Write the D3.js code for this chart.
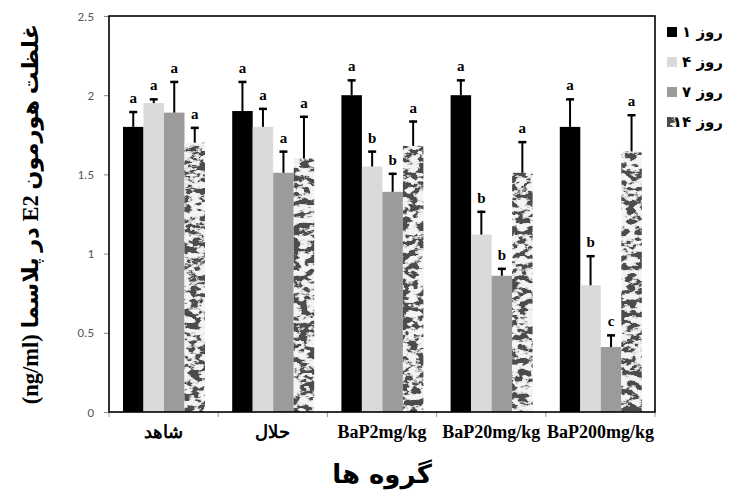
<!DOCTYPE html>
<html><head><meta charset="utf-8">
<script src="https://cdn.jsdelivr.net/npm/d3@7/dist/d3.min.js"></script>
<style>body{margin:0;background:#fff}svg{display:block}</style>
</head><body>
<svg id="c" width="732" height="499"></svg>
<script>
const groups = ["شاهد", "حلال", "BaP2mg/kg", "BaP20mg/kg", "BaP200mg/kg"];
const seriesNames = ["روز ۱", "روز ۴", "روز ۷", "روز ۱۴"];
const day1  = [1.80, 1.90, 2.00, 2.00, 1.80];
const day4  = [1.95, 1.80, 1.55, 1.12, 0.80];
const day7  = [1.89, 1.51, 1.39, 0.86, 0.41];
const day14 = [1.70, 1.60, 1.68, 1.51, 1.645];
const err1  = [0.10, 0.19, 0.10, 0.10, 0.18];
const err4  = [0.03, 0.12, 0.10, 0.15, 0.19];
const err7  = [0.20, 0.14, 0.12, 0.05, 0.08];
const err14 = [0.10, 0.27, 0.16, 0.20, 0.235];
const let1  = ["a","a","a","a","a"];
const let4  = ["a","a","b","b","b"];
const let7  = ["a","a","b","b","c"];
const let14 = ["a","a","a","a","a"];
const yTicks = [0, 0.5, 1, 1.5, 2, 2.5];

const vals = [day1, day4, day7, day14];
const errs = [err1, err4, err7, err14];
const lets = [let1, let4, let7, let14];
const colors = ["#000000", "#dadada", "#9d9a9a", "url(#marblePat)"];

const svg = d3.select("#c");
const L = 109, R = 655, T = 16, B = 412;

const defs = svg.append("defs");
const f = defs.append("filter").attr("id","marble")
  .attr("filterUnits","userSpaceOnUse").attr("color-interpolation-filters","sRGB")
  .attr("x",0).attr("y",0).attr("width",732).attr("height",499);
f.append("feTurbulence").attr("type","fractalNoise").attr("baseFrequency","0.11 0.17")
  .attr("numOctaves",3).attr("seed",11).attr("result","n");
f.append("feColorMatrix").attr("in","n").attr("type","matrix")
  .attr("values","1 0 0 0 0  1 0 0 0 0  1 0 0 0 0  0 0 0 0 1").attr("result","g");
const ct = f.append("feComponentTransfer").attr("in","g");
const tv = [];
for (let k = 0; k < 25; k++) tv.push(k < 11 ? 0.96 : k === 11 ? 0.9 : k === 12 ? 0.8 : k === 13 ? 0.55 : 0.3);
["feFuncR","feFuncG","feFuncB"].forEach(k=>ct.append(k).attr("type","discrete")
  .attr("tableValues", tv.join(" ")));
const pat = defs.append("pattern").attr("id","marblePat").attr("patternUnits","userSpaceOnUse")
  .attr("x",0).attr("y",0).attr("width",732).attr("height",499);
pat.append("rect").attr("width",732).attr("height",499).attr("fill","#fff").attr("filter","url(#marble)");

const y = d3.scaleLinear().domain([0, 2.5]).range([B, T]);
const x0 = d3.scaleBand().domain(groups).range([L, R]).padding(0);
const x1 = d3.scaleBand().domain(d3.range(4)).range([14, 96]).padding(0);

// bars
vals.forEach((arr, s) => {
  const g = svg.append("g");
  g.selectAll("rect").data(arr).join("rect")
    .attr("x", (d,i) => x0(groups[i]) + x1(s))
    .attr("y", d => y(d))
    .attr("width", x1.bandwidth())
    .attr("height", d => B - y(d))
    .attr("fill", colors[s]);
});

// error bars & letters
vals.forEach((arr, s) => {
  arr.forEach((d, i) => {
    const cx = x0(groups[i]) + x1(s) + x1.bandwidth()/2;
    const top = y(d + errs[s][i]);
    svg.append("line").attr("x1",cx).attr("x2",cx).attr("y1",y(d)).attr("y2",top)
      .attr("stroke","#000").attr("stroke-width",2);
    svg.append("line").attr("x1",cx-4).attr("x2",cx+4).attr("y1",top+1).attr("y2",top+1)
      .attr("stroke","#000").attr("stroke-width",2.5);
    svg.append("text").attr("x",cx).attr("y",top-8).attr("text-anchor","middle")
      .attr("font-family","Liberation Serif, serif").attr("font-weight","bold")
      .attr("font-size",15).text(lets[s][i]);
  });
});

// y axis
const ya = svg.append("g").attr("transform",`translate(${L},0)`)
  .call(d3.axisLeft(y).tickValues(yTicks).tickFormat(d=>String(d)).tickSize(5).tickPadding(10));
ya.select(".domain").remove();
ya.selectAll("line").attr("stroke","#888");
ya.selectAll("text").attr("font-family","Carlito, Liberation Sans, sans-serif").attr("font-size",13).attr("fill","#555");

// x axis ticks at boundaries
const bounds = groups.map(g=>x0(g)).concat([R]);
svg.append("g").selectAll("line").data(bounds).join("line")
  .attr("x1",d=>d).attr("x2",d=>d).attr("y1",B).attr("y2",B+5).attr("stroke","#999");
svg.append("g").selectAll("text").data(groups).join("text")
  .attr("x",d=>x0(d)+x0.bandwidth()/2).attr("y",438).attr("text-anchor","middle")
  .attr("font-family","Liberation Serif, serif").attr("font-weight","bold").attr("font-size",18)
  .text(d=>d);

// frame
svg.append("rect").attr("x",L).attr("y",T).attr("width",R-L).attr("height",B-T)
  .attr("fill","none").attr("stroke","#000").attr("stroke-width",1.6);

// titles
svg.append("text").attr("x",382).attr("y",483).attr("text-anchor","middle").attr("direction","rtl")
  .attr("font-family","DejaVu Sans, sans-serif").attr("font-weight","bold").attr("font-size",26)
  .text("گروه ها");
svg.append("text").attr("transform","translate(38,214) rotate(-90)").attr("text-anchor","middle")
  .attr("direction","rtl")
  .attr("font-family","Liberation Serif, DejaVu Sans, serif").attr("font-weight","bold").attr("font-size",22.5)
  .text("غلظت هورمون E2 در پلاسما (ng/ml)");

// legend
const lg = svg.append("g");
seriesNames.forEach((n, s) => {
  const cy = 32 + s*30;
  lg.append("rect").attr("x",667).attr("y",cy-5).attr("width",10).attr("height",10).attr("fill",colors[s]);
  lg.append("text").attr("x",723).attr("y",cy+5).attr("text-anchor","end")
    .attr("font-family","DejaVu Sans, sans-serif").attr("font-weight","bold").attr("font-size",15)
    .text(n);
});
</script>
</body></html>
